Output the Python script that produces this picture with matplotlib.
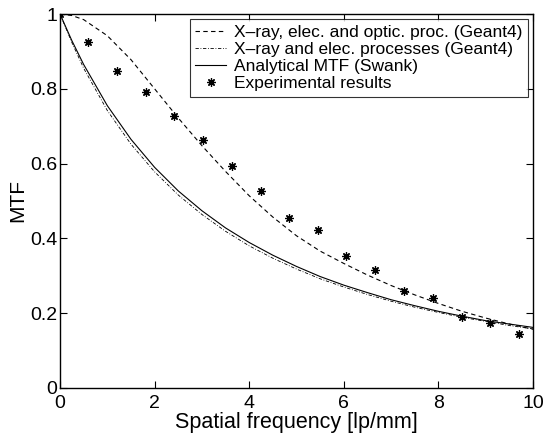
import matplotlib.pyplot as plt
import numpy as np

plt.rcParams['font.family'] = ['Liberation Sans', 'DejaVu Sans']

# curve values
freq = [0, 0.25, 0.5, 1, 1.5, 2, 2.5, 3, 3.5, 4, 4.5, 5, 5.5, 6, 6.5, 7, 7.5, 8, 8.5, 9, 9.5, 10]
mtf_optic = [1.0, 0.996, 0.985, 0.942, 0.878, 0.800, 0.722, 0.648, 0.579, 0.514, 0.457,
             0.407, 0.366, 0.333, 0.302, 0.274, 0.249, 0.226, 0.205, 0.187, 0.171, 0.157]
mtf_elec = [1.0, 0.924, 0.855, 0.742, 0.652, 0.578, 0.516, 0.464, 0.419, 0.380, 0.347,
            0.318, 0.292, 0.270, 0.250, 0.232, 0.216, 0.202, 0.189, 0.178, 0.167, 0.158]
mtf_swank = [1.0, 0.929, 0.865, 0.755, 0.665, 0.590, 0.527, 0.474, 0.428, 0.389, 0.355,
             0.325, 0.298, 0.275, 0.255, 0.236, 0.220, 0.205, 0.192, 0.180, 0.171, 0.162]

# experimental points
exp_x = [0, 0.60, 1.20, 1.81, 2.42, 3.03, 3.63, 4.25, 4.85, 5.45, 6.05, 6.67, 7.28, 7.88, 8.49, 9.10, 9.70]
exp_y = [1.0, 0.924, 0.848, 0.792, 0.727, 0.662, 0.594, 0.528, 0.455, 0.422, 0.354,
         0.316, 0.259, 0.241, 0.191, 0.175, 0.144]

fig = plt.figure(figsize=(5.47, 4.38), dpi=100)
ax = fig.add_axes([0.1097, 0.1142, 0.8647, 0.8538])

ax.plot(freq, mtf_optic, 'k--', lw=0.8, dashes=(4, 3), label='X\u2013ray, elec. and optic. proc. (Geant4)')
ax.plot(freq, mtf_elec, 'k-.', lw=0.6, dashes=(4, 2, 1, 2), label='X\u2013ray and elec. processes (Geant4)')
ax.plot(freq, mtf_swank, 'k-', lw=0.8, label='Analytical MTF (Swank)')
ax.plot(exp_x, exp_y, ls='none', marker=(8, 2, 0), ms=6, mew=0.9, color='k', label='Experimental results')

ax.set_xlim(0, 10)
ax.set_ylim(0, 1)
ax.set_xticks(np.arange(0, 11, 2))
ax.set_yticks([0, 0.2, 0.4, 0.6, 0.8, 1])
ax.set_yticklabels(['0', '0.2', '0.4', '0.6', '0.8', '1'])
ax.tick_params(direction='in', top=True, right=True, labelsize=14, length=5, width=0.8)
ax.tick_params(axis='x', pad=5)
ax.tick_params(axis='y', pad=2)
for s in ax.spines.values():
    s.set_linewidth(1.0)

ax.set_xlabel('Spatial frequency [lp/mm]', fontsize=15.5, labelpad=0)
ax.set_ylabel('MTF', fontsize=15, labelpad=2)

leg = ax.legend(loc='upper right', fontsize=12.5, frameon=True, fancybox=False,
                edgecolor='k', handlelength=1.8, borderpad=0.3, labelspacing=0.12,
                handletextpad=0.45, borderaxespad=0.3)
leg.get_frame().set_linewidth(0.8)

fig.savefig('out.png', dpi=100)
